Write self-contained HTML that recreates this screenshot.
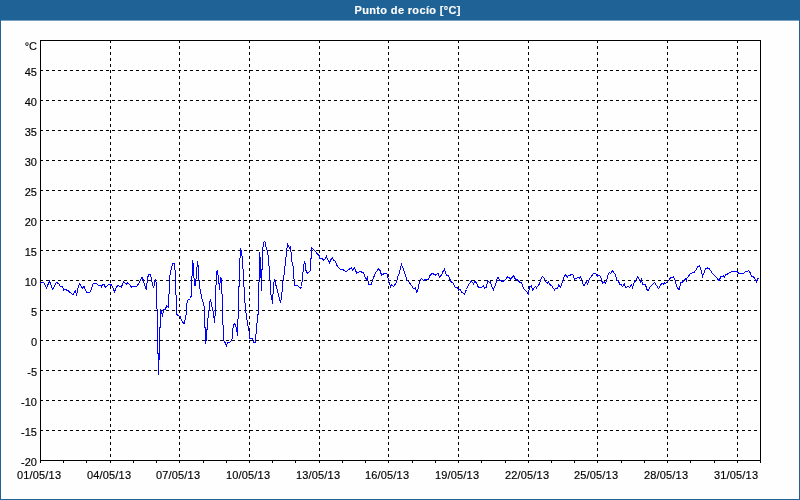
<!DOCTYPE html>
<html lang="es"><head><meta charset="utf-8"><title>Punto de rocío [°C]</title>
<style>
html,body{margin:0;padding:0;background:#fefefe;overflow:hidden}
svg{display:block}
text{font-family:"Liberation Sans",sans-serif;font-size:11px;fill:#000;stroke:#000;stroke-width:0.15px}
.t{font-weight:bold;fill:#fff;font-size:11px;stroke:#fff;stroke-width:0.15px}
.g{stroke:#000;stroke-width:1;stroke-dasharray:3 3;shape-rendering:crispEdges;fill:none}
.a{stroke:#000;stroke-width:1;shape-rendering:crispEdges;fill:none}
.d{stroke:#0000ff;stroke-width:1;shape-rendering:crispEdges;fill:none;stroke-linejoin:miter}
</style></head><body>
<svg width="800" height="500" viewBox="0 0 800 500">
<rect x="0" y="0" width="800" height="500" fill="#fefefe"/>
<rect x="0" y="0" width="800" height="20" fill="#1e6296"/>
<rect x="0" y="20" width="800" height="1" fill="#78a0c0"/>
<rect x="0" y="0" width="1" height="500" fill="#1e6296"/>
<rect x="799" y="0" width="1" height="500" fill="#1e6296"/>
<rect x="0" y="499" width="800" height="1" fill="#1e6296"/>
<text class="t" x="407.5" y="14" text-anchor="middle" textLength="106" lengthAdjust="spacing">Punto de rocío [°C]</text>

<line class="g" x1="40" y1="70.5" x2="760" y2="70.5"/>
<line class="g" x1="40" y1="100.5" x2="760" y2="100.5"/>
<line class="g" x1="40" y1="130.5" x2="760" y2="130.5"/>
<line class="g" x1="40" y1="160.5" x2="760" y2="160.5"/>
<line class="g" x1="40" y1="190.5" x2="760" y2="190.5"/>
<line class="g" x1="40" y1="220.5" x2="760" y2="220.5"/>
<line class="g" x1="40" y1="250.5" x2="760" y2="250.5"/>
<line class="g" x1="40" y1="280.5" x2="760" y2="280.5"/>
<line class="g" x1="40" y1="310.5" x2="760" y2="310.5"/>
<line class="g" x1="40" y1="340.5" x2="760" y2="340.5"/>
<line class="g" x1="40" y1="370.5" x2="760" y2="370.5"/>
<line class="g" x1="40" y1="400.5" x2="760" y2="400.5"/>
<line class="g" x1="40" y1="430.5" x2="760" y2="430.5"/>
<line class="g" x1="110.5" y1="40" x2="110.5" y2="460"/>
<line class="g" x1="179.5" y1="40" x2="179.5" y2="460"/>
<line class="g" x1="249.5" y1="40" x2="249.5" y2="460"/>
<line class="g" x1="319.5" y1="40" x2="319.5" y2="460"/>
<line class="g" x1="388.5" y1="40" x2="388.5" y2="460"/>
<line class="g" x1="458.5" y1="40" x2="458.5" y2="460"/>
<line class="g" x1="528.5" y1="40" x2="528.5" y2="460"/>
<line class="g" x1="597.5" y1="40" x2="597.5" y2="460"/>
<line class="g" x1="667.5" y1="40" x2="667.5" y2="460"/>
<line class="g" x1="737.5" y1="40" x2="737.5" y2="460"/>
<line class="a" x1="40.5" y1="461" x2="40.5" y2="463"/>
<line class="a" x1="63.5" y1="461" x2="63.5" y2="463"/>
<line class="a" x1="86.5" y1="461" x2="86.5" y2="463"/>
<line class="a" x1="110.5" y1="461" x2="110.5" y2="463"/>
<line class="a" x1="133.5" y1="461" x2="133.5" y2="463"/>
<line class="a" x1="156.5" y1="461" x2="156.5" y2="463"/>
<line class="a" x1="179.5" y1="461" x2="179.5" y2="463"/>
<line class="a" x1="203.5" y1="461" x2="203.5" y2="463"/>
<line class="a" x1="226.5" y1="461" x2="226.5" y2="463"/>
<line class="a" x1="249.5" y1="461" x2="249.5" y2="463"/>
<line class="a" x1="272.5" y1="461" x2="272.5" y2="463"/>
<line class="a" x1="295.5" y1="461" x2="295.5" y2="463"/>
<line class="a" x1="319.5" y1="461" x2="319.5" y2="463"/>
<line class="a" x1="342.5" y1="461" x2="342.5" y2="463"/>
<line class="a" x1="365.5" y1="461" x2="365.5" y2="463"/>
<line class="a" x1="388.5" y1="461" x2="388.5" y2="463"/>
<line class="a" x1="412.5" y1="461" x2="412.5" y2="463"/>
<line class="a" x1="435.5" y1="461" x2="435.5" y2="463"/>
<line class="a" x1="458.5" y1="461" x2="458.5" y2="463"/>
<line class="a" x1="481.5" y1="461" x2="481.5" y2="463"/>
<line class="a" x1="505.5" y1="461" x2="505.5" y2="463"/>
<line class="a" x1="528.5" y1="461" x2="528.5" y2="463"/>
<line class="a" x1="551.5" y1="461" x2="551.5" y2="463"/>
<line class="a" x1="574.5" y1="461" x2="574.5" y2="463"/>
<line class="a" x1="597.5" y1="461" x2="597.5" y2="463"/>
<line class="a" x1="621.5" y1="461" x2="621.5" y2="463"/>
<line class="a" x1="644.5" y1="461" x2="644.5" y2="463"/>
<line class="a" x1="667.5" y1="461" x2="667.5" y2="463"/>
<line class="a" x1="690.5" y1="461" x2="690.5" y2="463"/>
<line class="a" x1="714.5" y1="461" x2="714.5" y2="463"/>
<line class="a" x1="737.5" y1="461" x2="737.5" y2="463"/>
<line class="a" x1="760.5" y1="461" x2="760.5" y2="463"/>
<rect class="a" x="40.5" y="40.5" width="720" height="420"/>
<text x="37" y="50" text-anchor="end">°C</text>
<text x="37" y="76" text-anchor="end">45</text>
<text x="37" y="106" text-anchor="end">40</text>
<text x="37" y="136" text-anchor="end">35</text>
<text x="37" y="166" text-anchor="end">30</text>
<text x="37" y="196" text-anchor="end">25</text>
<text x="37" y="226" text-anchor="end">20</text>
<text x="37" y="256" text-anchor="end">15</text>
<text x="37" y="286" text-anchor="end">10</text>
<text x="37" y="316" text-anchor="end">5</text>
<text x="37" y="346" text-anchor="end">0</text>
<text x="37" y="376" text-anchor="end">-5</text>
<text x="37" y="406" text-anchor="end">-10</text>
<text x="37" y="436" text-anchor="end">-15</text>
<text x="37" y="466" text-anchor="end">-20</text>
<text x="39" y="479" text-anchor="middle" textLength="44" lengthAdjust="spacing">01/05/13</text>
<text x="109" y="479" text-anchor="middle" textLength="44" lengthAdjust="spacing">04/05/13</text>
<text x="178" y="479" text-anchor="middle" textLength="44" lengthAdjust="spacing">07/05/13</text>
<text x="248" y="479" text-anchor="middle" textLength="44" lengthAdjust="spacing">10/05/13</text>
<text x="318" y="479" text-anchor="middle" textLength="44" lengthAdjust="spacing">13/05/13</text>
<text x="387" y="479" text-anchor="middle" textLength="44" lengthAdjust="spacing">16/05/13</text>
<text x="457" y="479" text-anchor="middle" textLength="44" lengthAdjust="spacing">19/05/13</text>
<text x="527" y="479" text-anchor="middle" textLength="44" lengthAdjust="spacing">22/05/13</text>
<text x="596" y="479" text-anchor="middle" textLength="44" lengthAdjust="spacing">25/05/13</text>
<text x="666" y="479" text-anchor="middle" textLength="44" lengthAdjust="spacing">28/05/13</text>
<text x="736" y="479" text-anchor="middle" textLength="44" lengthAdjust="spacing">31/05/13</text>
<polyline class="d" points="40.5,283.5 43,282 44.5,283.5 46.5,288 49.5,281 52.5,289.5 56.5,282.5 58.5,283.5 60.5,286.5 62.5,286.5 63.5,290 65.5,289.5 68.5,291 72.5,294.5 73.5,294.5 74.5,291.5 75.5,290.5 76.5,295.5 78.5,285.5 79.5,284 82.5,288 84,286.5 86.5,292.5 89.5,292.5 91,290.5 93,284 96,283.5 99,285.5 101,285.5 101.5,286.5 102.5,284.5 104,284.5 105.5,287.5 109,284 110.5,285 111.5,284.5 114.5,292 116.5,286.5 118.5,285.5 120,286.5 121.5,287 123.5,281.5 126.5,284.5 127.5,282.5 129,284 131.5,287 133.5,286.5 136.5,286.5 138.5,284 141.5,278 142.5,277.5 144.5,285 146.5,289.5 147.5,277.5 149,274.5 150.5,274.5 151.5,279.5 153.5,288 155.5,279.5 156.5,284 156.5,308.5 157.5,309.5 157.5,353 158.5,353 158.5,374.5 158.5,360 159.5,359.5 159.5,328 160.5,327 160.5,310 161.5,311.5 162.5,316.5 163.5,310 165.5,309 166.5,306 168.5,307 168.5,294.5 169.5,293 169.5,278 170.5,273 171.5,267 173,263.5 174.5,263.5 174.5,269.5 175.5,270.5 175.5,294.5 176.5,295.5 176.5,313.5 177.5,315.5 180,316.5 182.5,322.5 184.5,323.5 185.5,316 186.5,314 186.5,305.5 187.5,300.5 190.5,298.5 191.5,294.5 191.5,276.5 192.5,275.5 192.5,260.5 193.5,266 193.5,277 194.5,279 194.5,285 195.5,285.5 195.5,279.5 196.5,278.5 196.5,267.5 197.5,266.5 197.5,261 198.5,269 198.5,279 199.5,281.5 199.5,288 200.5,289.5 201.5,297.5 202.5,300 204.5,308 204.5,326 205.5,329 205.5,343.5 206.5,338 206.5,330 207.5,329.5 207.5,319.5 208.5,317 209.5,305 209.5,303 210.5,299.5 211.5,304 211.5,305 213.5,313 214.5,322.5 215.5,310 215.5,285.5 216.5,284.5 216.5,271.5 217.5,270.5 217.5,274.5 218.5,275.5 218.5,283 219.5,284.5 219.5,289.5 220.5,277.5 221.5,278.5 221.5,293.5 222.5,294.5 222.5,324 223.5,325.5 223.5,340 224.5,341.5 226.5,345.5 227.5,342.5 230.5,342 231.5,340 232.5,338 232.5,332 233.5,325 234.5,324 235.5,324.5 236.5,329 237.5,335.5 237.5,319.5 238.5,318.5 238.5,287 239.5,286 239.5,259 240.5,257.5 240.5,248 241.5,251.5 241.5,255 242.5,256.5 242.5,268 243.5,269.5 243.5,286.5 244.5,287.5 244.5,302 245.5,303.5 245.5,310 246.5,316 247.5,323 248.5,328 249.5,334 249.5,338.5 252.5,338.5 253.5,342 255.5,342 255.5,334.5 256.5,333 256.5,324 257.5,322.5 257.5,315 258.5,314 258.5,282.5 259.5,281 259.5,252 260.5,262 260.5,275 261.5,280 261.5,290.5 261.5,270 262.5,269.5 262.5,247.5 263.5,246.5 263.5,243 264.5,241.5 265.5,243 265.5,246.5 266.5,247.5 267.5,253 268.5,256.5 268.5,265 269.5,266.5 269.5,278.5 270.5,281 270.5,293.5 271.5,296.5 272.5,303.5 273.5,285 274.5,279.5 275.5,283.5 280.5,302.5 281.5,298 282.5,286 283.5,276 284.5,274.5 284.5,267 285.5,265.5 285.5,257.5 286.5,256 286.5,248.5 287.5,247.5 287.5,243.5 288.5,246.5 289.5,248 290.5,246.5 290.5,251 291.5,252.5 291.5,261 292.5,262.5 293.5,269.5 293.5,278 294.5,279.5 294.5,285 297.5,285.5 300.5,288.5 301.5,286.5 302.5,277.5 303.5,267.5 304.5,261.5 305.5,265 305.5,269.5 307.5,273.5 310.5,270.5 310.5,259 311.5,258 311.5,247.5 319.5,256 319.5,258.5 322.5,258.5 323.5,260.5 325.5,258.5 326.5,256.5 327.5,259 329.5,262.5 331.5,258.5 332.5,257.5 333.5,260 335.5,261.5 336.5,265 340.5,269.5 342.5,269.5 346,271.5 349.5,269 351.5,267.5 352.5,270.5 354.5,268 355.5,269.5 356.5,273.5 357.5,272.5 360.5,271.5 363.5,273 365.5,278.5 366.5,279.5 367.5,277.5 368.5,284 371.5,284 372.5,280.5 375.5,272.5 377.5,270.5 378.5,268.5 380,270.5 381.5,275 383.5,274 386.5,273.5 387.5,275 388.5,280 390.5,286.5 391.5,284.5 393.5,286.5 395.5,284 396.5,282 397.5,277.5 399.5,272.5 401.5,264.5 403.5,269 406.5,279 407.5,280.5 410.5,284 413.5,288.5 415.5,288 416.5,292.5 417.5,291 419.5,282 421.5,278.5 423.5,280.5 426.5,279 428.5,279 430.5,274.5 432.5,273.5 435.5,275 438,273.5 439.5,277.5 441.5,275 443.5,270.5 444.5,269 446.5,275.5 448,275 450.5,280.5 451.5,282.5 452.5,282.5 455.5,287.5 457.5,288 458.5,290 460,289.5 461.5,292 464.5,294 466.5,289.5 468.5,284.5 471.5,281 473.5,284 475,281.5 476.5,283 478.5,287.5 481.5,287.5 483.5,285.5 484.5,288.5 486.5,287 487.5,280.5 489.5,282.5 490.5,281.5 491.5,286 493.5,289.5 495.5,284.5 497.5,277.5 498.5,277.5 499.5,280 502.5,281.5 504.5,280.5 507.5,277 509.5,277.5 510.5,279.5 513.5,275.5 515.5,279.5 517,279.5 519.5,282 521.5,283 523.5,288.5 525.5,290.5 528.5,294 529.5,287 531.5,285.5 532.5,290 535.5,286.5 536.5,288 539.5,284 541.5,277.5 542.5,276.5 544.5,278.5 544.5,280.5 547.5,283 548.5,282 549.5,284.5 551.5,285.5 554.5,290 555.5,288.5 557.5,288.5 558.5,285 560.5,287.5 561.5,284.5 563.5,279 564.5,275.5 565.5,275 567.5,277 568.5,275.5 572.5,274.5 573.5,276 574.5,279.5 577.5,277.5 579.5,278 580.5,276.5 581.5,280 583.5,285 584.5,285 586.5,281.5 587.5,284 589.5,279 593.5,273.5 595.5,273.5 597.5,276 599.5,275.5 600.5,277 601.5,279.5 602.5,283.5 604.5,282 605.5,283.5 606.5,281 608.5,273.5 609.5,272.5 610.5,273.5 612.5,271 615.5,274.5 616.5,279.5 618.5,281 619.5,284 621.5,285 622.5,286.5 624.5,284 625.5,287.5 628.5,286.5 629.5,287.5 631.5,284.5 632.5,287.5 634.5,282 636.5,279.5 637.5,276.5 639.5,279.5 640.5,282 641.5,279.5 642.5,284 645.5,284.5 646.5,288.5 647.5,290.5 648.5,290 649.5,287.5 654.5,282.5 658.5,288.5 660.5,285.5 661.5,283.5 663.5,284 664.5,283 665.5,283.5 667.5,281.5 670.5,278 673.5,277 674.5,278.5 675.5,282 677.5,288.5 679.5,289.5 680.5,283 682.5,282 685.5,278.5 686.5,281.5 686.5,279 690.5,273.5 694.5,272 695.5,271.5 697.5,266.5 699.5,266 700.5,267.5 702.5,276.5 705.5,269 707.5,268 709.5,269 712.5,273.5 715.5,276.5 718.5,280 719.5,280 720.5,277 723.5,276 724.5,277 725.5,274.5 727.5,274 731.5,271.5 737.5,271.5 738.5,273.5 743.5,273.5 745.5,271.5 747.5,271.5 748.5,270.5 750,272.5 751.5,276 753.5,277 755.5,279.5 756.5,282 757.5,279 759.5,278.5"/>
</svg></body></html>
